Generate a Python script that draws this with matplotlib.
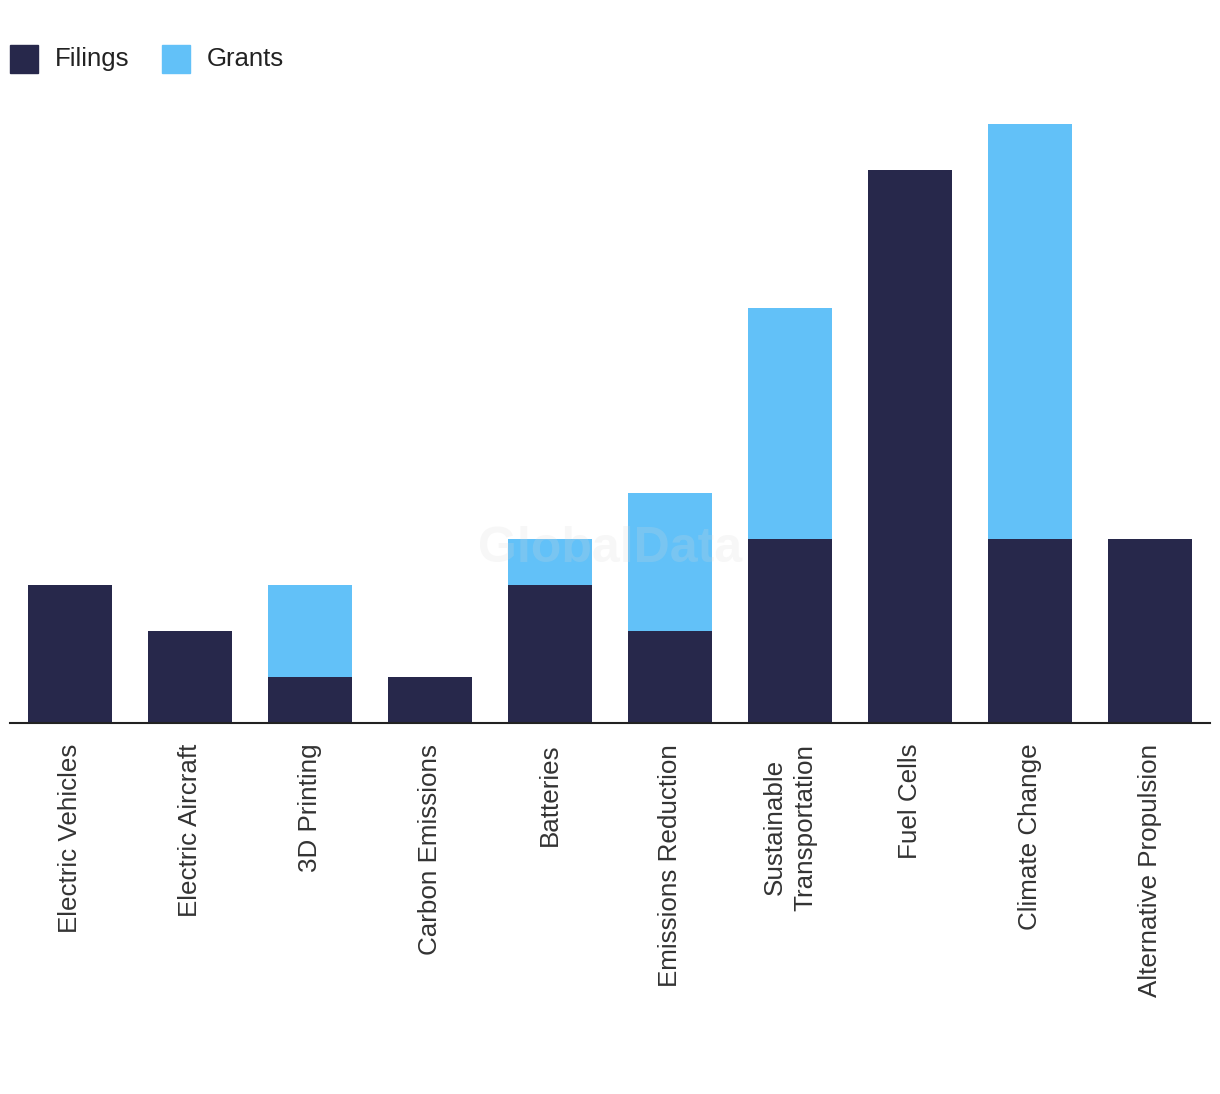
import matplotlib.pyplot as plt
from matplotlib.patches import Rectangle
import numpy as np

categories = ['Electric Vehicles', 'Electric Aircraft', '3D Printing', 'Carbon Emissions',
              'Batteries', 'Emissions Reduction', 'Sustainable\nTransportation', 'Fuel Cells',
              'Climate Change', 'Alternative Propulsion']
filings = [3, 2, 1, 1, 3, 2, 4, 12, 4, 4]
grants = [0, 0, 2, 0, 1, 3, 5, 0, 9, 0]

navy = '#27284b'
sky = '#62c1f8'

plt.rcParams['font.family'] = ['Liberation Sans', 'DejaVu Sans']

W, H = 1220, 1094
fig = plt.figure(figsize=(W / 100, H / 100), dpi=100)
ax = fig.add_axes([10 / W, 1 - 723 / H, 1200 / W, (723 - 124) / H])

x = np.arange(len(categories))
ax.bar(x, filings, width=0.7, color=navy, label='Filings')
ax.bar(x, grants, width=0.7, bottom=filings, color=sky, label='Grants')

ax.set_xlim(-0.5, len(categories) - 0.5)
ax.set_ylim(0, 13)
ax.set_xticks(x)
ax.set_xticklabels(categories, rotation=90, fontsize=18.7, color='#333333',
                   va='top', ha='center', linespacing=1.35)
ax.tick_params(axis='x', length=0, pad=15)
ax.set_yticks([])
for s in ['top', 'right', 'left']:
    ax.spines[s].set_visible(False)
ax.spines['bottom'].set_color('#222222')
ax.spines['bottom'].set_linewidth(1.5)

# faint watermark
ax.text(0.5, 0.29, 'GlobalData', transform=ax.transAxes, fontsize=36, fontweight='bold',
        color='#d8d8d8', alpha=0.2, ha='center', va='center', zorder=5)

# legend drawn by hand
for lab, col, x0, tx in [('Filings', navy, 10, 55), ('Grants', sky, 162, 207)]:
    fig.add_artist(Rectangle((x0 / W, 1 - 73 / H), 28 / W, 28 / H,
                             transform=fig.transFigure, color=col))
    fig.text(tx / W, 1 - 59 / H, lab, fontsize=18.5, color='#222222', va='center', ha='left')

fig.savefig('out.png', dpi=100)
